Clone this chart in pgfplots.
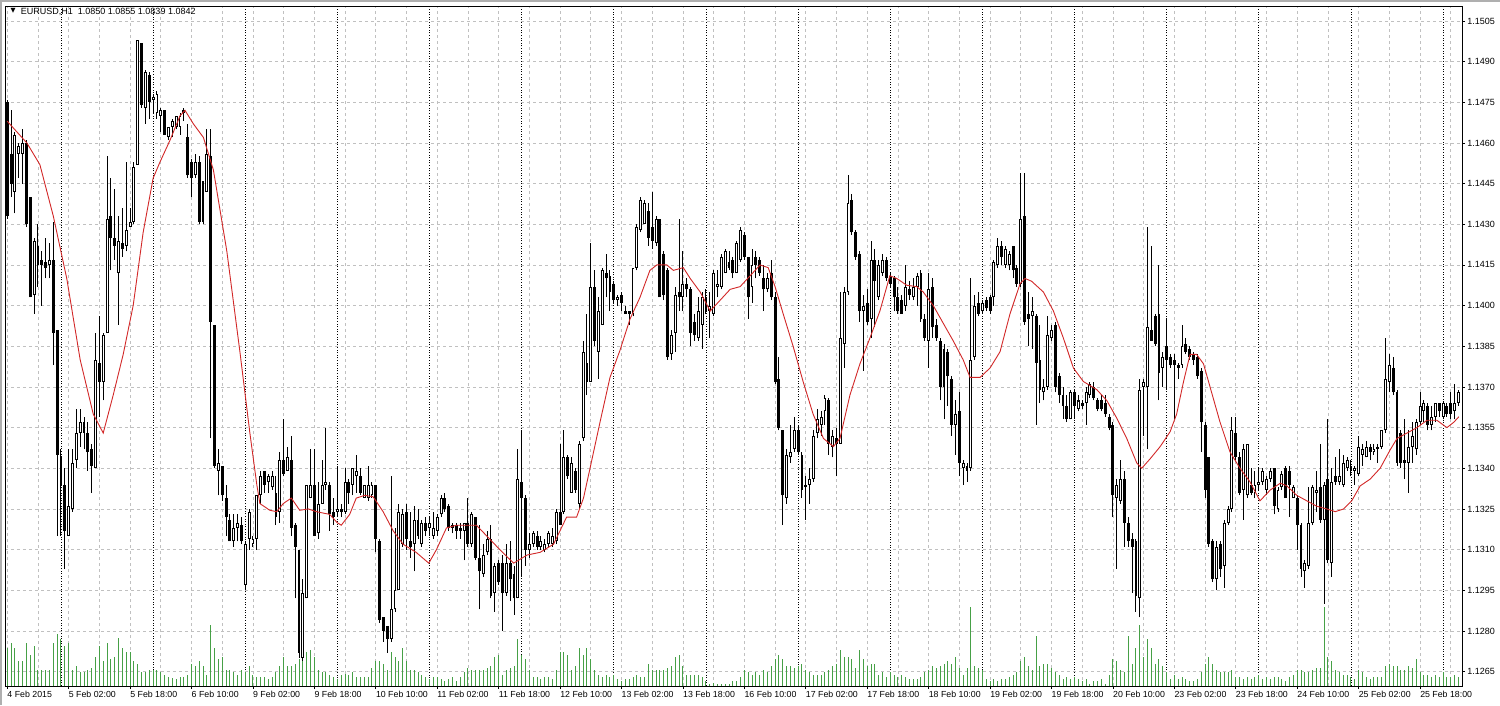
\documentclass[border=0pt]{standalone}
\usepackage{pgfplots}
\pgfplotsset{compat=1.18}
\usepackage{pgfplotstable}
\usepackage{fontspec}
\setmainfont{Liberation Sans}
\newfontfamily\symfont{DejaVu Sans}

\definecolor{gridc}{RGB}{192,192,192}
\definecolor{volc}{RGB}{70,160,70}
\definecolor{mac}{RGB}{210,40,40}
\definecolor{framec}{RGB}{175,175,175}

% hourly bars: index, open, high, low, close, tick volume
\pgfplotstableread{
i o h l c v
0 1.1475 1.1476 1.1432 1.1433 38
1 1.1456 1.1472 1.1440 1.1445 43
2 1.1442 1.1464 1.1434 1.1463 38
3 1.1456 1.1460 1.1447 1.1459 25
4 1.1456 1.1465 1.1445 1.1460 25
5 1.1460 1.1461 1.1429 1.1430 43
6 1.1440 1.1440 1.1403 1.1403 31
7 1.1404 1.1425 1.1397 1.1424 40
8 1.1422 1.1430 1.1407 1.1415 16
9 1.1417 1.1420 1.1400 1.1415 16
10 1.1416 1.1425 1.1410 1.1414 16
11 1.1415 1.1423 1.1410 1.1417 16
12 1.1417 1.1431 1.1378 1.1390 43
13 1.1391 1.1391 1.1315 1.1345 52
14 1.1344 1.1347 1.1315 1.1334 47
15 1.1334 1.1340 1.1303 1.1317 40
16 1.1315 1.1347 1.1315 1.1326 43
17 1.1325 1.1347 1.1324 1.1342 16
18 1.1343 1.1362 1.1340 1.1353 20
19 1.1353 1.1362 1.1348 1.1357 14
20 1.1357 1.1359 1.1347 1.1353 14
21 1.1353 1.1357 1.1339 1.1346 16
22 1.1347 1.1349 1.1331 1.1341 18
23 1.1340 1.1390 1.1340 1.1380 29
24 1.1379 1.1396 1.1359 1.1372 40
25 1.1372 1.1390 1.1365 1.1389 25
26 1.1390 1.1455 1.1390 1.1432 43
27 1.1433 1.1447 1.1413 1.1425 27
28 1.1425 1.1443 1.1417 1.1422 29
29 1.1412 1.1433 1.1393 1.1424 48
30 1.1423 1.1436 1.1418 1.1421 38
31 1.1422 1.1453 1.1420 1.1428 34
32 1.1429 1.1436 1.1429 1.1431 34
33 1.1431 1.1453 1.1430 1.1451 25
34 1.1452 1.1498 1.1452 1.1498 22
35 1.1497 1.1497 1.1473 1.1474 14
36 1.1473 1.1487 1.1467 1.1486 14
37 1.1485 1.1486 1.1469 1.1475 16
38 1.1476 1.1478 1.1471 1.1477 16
39 1.1471 1.1479 1.1469 1.1478 16
40 1.1470 1.1473 1.1464 1.1472 14
41 1.1472 1.1472 1.1463 1.1463 11
42 1.1462 1.1466 1.1461 1.1466 9
43 1.1466 1.1469 1.1462 1.1468 8
44 1.1466 1.1470 1.1465 1.1470 7
45 1.1466 1.1471 1.1463 1.1470 9
46 1.1472 1.1473 1.1468 1.1471 9
47 1.1462 1.1467 1.1447 1.1448 11
48 1.1453 1.1454 1.1440 1.1447 22
49 1.1448 1.1456 1.1447 1.1453 20
50 1.1453 1.1455 1.1430 1.1431 25
51 1.1446 1.1446 1.1430 1.1431 20
52 1.1442 1.1465 1.1442 1.1456 11
53 1.1455 1.1465 1.1351 1.1394 61
54 1.1393 1.1393 1.1340 1.1341 38
55 1.1339 1.1347 1.1330 1.1342 27
56 1.1341 1.1341 1.1328 1.1330 29
57 1.1329 1.1334 1.1315 1.1322 16
58 1.1321 1.1323 1.1313 1.1313 16
59 1.1313 1.1323 1.1311 1.1318 14
60 1.1318 1.1323 1.1313 1.1320 11
61 1.1319 1.1322 1.1312 1.1313 16
62 1.1297 1.1313 1.1295 1.1312 14
63 1.1314 1.1325 1.1310 1.1324 20
64 1.1312 1.1315 1.1311 1.1314 11
65 1.1314 1.1330 1.1310 1.1330 9
66 1.1330 1.1339 1.1327 1.1337 9
67 1.1339 1.1339 1.1331 1.1334 9
68 1.1335 1.1338 1.1331 1.1337 7
69 1.1333 1.1339 1.1332 1.1337 9
70 1.1331 1.1337 1.1319 1.1322 14
71 1.1324 1.1346 1.1320 1.1343 20
72 1.1343 1.1358 1.1337 1.1338 29
73 1.1339 1.1348 1.1339 1.1344 20
74 1.1343 1.1352 1.1315 1.1318 20
75 1.1319 1.1320 1.1292 1.1311 22
76 1.1310 1.1310 1.1270 1.1272 27
77 1.1270 1.1299 1.1269 1.1294 34
78 1.1292 1.1334 1.1292 1.1334 34
79 1.1329 1.1347 1.1329 1.1334 36
80 1.1334 1.1347 1.1315 1.1315 29
81 1.1316 1.1335 1.1314 1.1327 16
82 1.1327 1.1343 1.1327 1.1334 14
83 1.1334 1.1355 1.1332 1.1335 14
84 1.1334 1.1335 1.1317 1.1323 11
85 1.1324 1.1329 1.1319 1.1322 9
86 1.1324 1.1341 1.1322 1.1325 7
87 1.1325 1.1327 1.1322 1.1324 11
88 1.1324 1.1340 1.1323 1.1335 12
89 1.1335 1.1336 1.1327 1.1331 11
90 1.1334 1.1340 1.1330 1.1340 14
91 1.1337 1.1345 1.1331 1.1339 9
92 1.1337 1.1340 1.1330 1.1331 9
93 1.1329 1.1334 1.1329 1.1334 9
94 1.1329 1.1341 1.1328 1.1334 9
95 1.1330 1.1335 1.1329 1.1334 18
96 1.1334 1.1334 1.1309 1.1314 25
97 1.1313 1.1314 1.1283 1.1284 25
98 1.1285 1.1285 1.1276 1.1280 22
99 1.1282 1.1282 1.1272 1.1277 16
100 1.1277 1.1337 1.1276 1.1288 34
101 1.1288 1.1318 1.1287 1.1295 29
102 1.1295 1.1327 1.1295 1.1324 25
103 1.1312 1.1325 1.1311 1.1323 38
104 1.1324 1.1327 1.1310 1.1314 25
105 1.1313 1.1324 1.1307 1.1311 16
106 1.1312 1.1326 1.1302 1.1321 16
107 1.1321 1.1325 1.1314 1.1315 14
108 1.1312 1.1321 1.1311 1.1320 11
109 1.1320 1.1322 1.1315 1.1317 9
110 1.1318 1.1322 1.1315 1.1320 7
111 1.1315 1.1324 1.1314 1.1318 9
112 1.1317 1.1323 1.1315 1.1322 9
113 1.1323 1.1330 1.1322 1.1329 7
114 1.1329 1.1331 1.1324 1.1325 5
115 1.1326 1.1327 1.1317 1.1318 7
116 1.1319 1.1320 1.1316 1.1318 9
117 1.1319 1.1320 1.1314 1.1317 5
118 1.1318 1.1320 1.1314 1.1317 9
119 1.1317 1.1320 1.1306 1.1320 14
120 1.1320 1.1329 1.1311 1.1312 18
121 1.1312 1.1324 1.1311 1.1323 16
122 1.1322 1.1322 1.1306 1.1307 16
123 1.1307 1.1319 1.1288 1.1302 16
124 1.1301 1.1312 1.1300 1.1308 16
125 1.1309 1.1317 1.1308 1.1314 18
126 1.1314 1.1319 1.1292 1.1293 20
127 1.1294 1.1305 1.1287 1.1304 29
128 1.1305 1.1306 1.1297 1.1298 31
129 1.1305 1.1308 1.1280 1.1294 11
130 1.1294 1.1312 1.1293 1.1305 16
131 1.1305 1.1313 1.1291 1.1299 18
132 1.1301 1.1304 1.1286 1.1292 20
133 1.1292 1.1347 1.1292 1.1336 47
134 1.1335 1.1354 1.1300 1.1329 31
135 1.1329 1.1330 1.1304 1.1310 27
136 1.1310 1.1316 1.1307 1.1312 16
137 1.1312 1.1317 1.1311 1.1316 9
138 1.1315 1.1317 1.1310 1.1311 9
139 1.1311 1.1315 1.1310 1.1313 7
140 1.1310 1.1314 1.1309 1.1312 9
141 1.1312 1.1317 1.1311 1.1316 9
142 1.1312 1.1318 1.1311 1.1315 7
143 1.1313 1.1325 1.1312 1.1324 16
144 1.1324 1.1349 1.1319 1.1319 34
145 1.1324 1.1354 1.1323 1.1344 34
146 1.1344 1.1345 1.1336 1.1337 31
147 1.1331 1.1344 1.1331 1.1342 16
148 1.1339 1.1340 1.1331 1.1332 20
149 1.1327 1.1350 1.1325 1.1349 38
150 1.1351 1.1387 1.1350 1.1383 31
151 1.1379 1.1397 1.1367 1.1372 38
152 1.1372 1.1423 1.1372 1.1407 27
153 1.1407 1.1413 1.1385 1.1387 16
154 1.1383 1.1403 1.1373 1.1398 11
155 1.1393 1.1414 1.1393 1.1413 9
156 1.1412 1.1419 1.1403 1.1410 11
157 1.1411 1.1413 1.1398 1.1405 9
158 1.1408 1.1409 1.1401 1.1402 11
159 1.1402 1.1404 1.1400 1.1403 7
160 1.1404 1.1405 1.1398 1.1401 5
161 1.1398 1.1400 1.1397 1.1397 7
162 1.1398 1.1398 1.1393 1.1397 7
163 1.1397 1.1414 1.1396 1.1414 9
164 1.1414 1.1430 1.1413 1.1429 11
165 1.1428 1.1440 1.1427 1.1439 9
166 1.1430 1.1439 1.1430 1.1438 9
167 1.1435 1.1438 1.1422 1.1425 22
168 1.1429 1.1442 1.1421 1.1424 16
169 1.1423 1.1433 1.1422 1.1432 16
170 1.1432 1.1432 1.1403 1.1403 16
171 1.1419 1.1420 1.1402 1.1404 16
172 1.1413 1.1414 1.1380 1.1381 18
173 1.1382 1.1391 1.1380 1.1389 20
174 1.1390 1.1407 1.1383 1.1404 29
175 1.1405 1.1432 1.1398 1.1403 31
176 1.1403 1.1420 1.1398 1.1408 20
177 1.1408 1.1410 1.1403 1.1406 11
178 1.1406 1.1407 1.1385 1.1390 11
179 1.1394 1.1397 1.1387 1.1389 11
180 1.1388 1.1403 1.1387 1.1398 11
181 1.1393 1.1405 1.1384 1.1403 9
182 1.1403 1.1406 1.1397 1.1398 5
183 1.1398 1.1405 1.1388 1.1400 2
184 1.1397 1.1413 1.1396 1.1412 3
185 1.1407 1.1413 1.1403 1.1408 2
186 1.1407 1.1419 1.1406 1.1418 2
187 1.1412 1.1421 1.1412 1.1420 2
188 1.1416 1.1420 1.1413 1.1414 2
189 1.1417 1.1418 1.1410 1.1412 5
190 1.1412 1.1424 1.1412 1.1423 5
191 1.1417 1.1429 1.1416 1.1428 9
192 1.1426 1.1427 1.1417 1.1418 16
193 1.1418 1.1418 1.1395 1.1403 14
194 1.1407 1.1421 1.1401 1.1415 11
195 1.1418 1.1420 1.1410 1.1415 14
196 1.1417 1.1418 1.1411 1.1412 11
197 1.1410 1.1415 1.1398 1.1406 16
198 1.1406 1.1412 1.1405 1.1410 14
199 1.1412 1.1417 1.1402 1.1403 20
200 1.1403 1.1405 1.1371 1.1372 27
201 1.1373 1.1381 1.1354 1.1355 31
202 1.1354 1.1354 1.1319 1.1330 27
203 1.1329 1.1347 1.1327 1.1345 20
204 1.1344 1.1356 1.1342 1.1346 20
205 1.1347 1.1359 1.1346 1.1354 18
206 1.1354 1.1356 1.1345 1.1346 20
207 1.1345 1.1346 1.1329 1.1332 22
208 1.1334 1.1337 1.1321 1.1333 16
209 1.1334 1.1340 1.1327 1.1336 14
210 1.1336 1.1354 1.1335 1.1352 11
211 1.1353 1.1362 1.1351 1.1358 11
212 1.1356 1.1361 1.1352 1.1359 11
213 1.1361 1.1367 1.1356 1.1366 14
214 1.1365 1.1366 1.1345 1.1349 16
215 1.1348 1.1354 1.1344 1.1352 20
216 1.1351 1.1355 1.1337 1.1349 22
217 1.1349 1.1405 1.1349 1.1388 36
218 1.1386 1.1407 1.1377 1.1405 29
219 1.1405 1.1448 1.1404 1.1438 29
220 1.1439 1.1441 1.1426 1.1427 27
221 1.1427 1.1428 1.1417 1.1418 18
222 1.1419 1.1420 1.1394 1.1398 36
223 1.1398 1.1404 1.1376 1.1400 27
224 1.1401 1.1406 1.1393 1.1394 20
225 1.1395 1.1424 1.1388 1.1417 22
226 1.1417 1.1421 1.1392 1.1409 22
227 1.1403 1.1417 1.1402 1.1415 11
228 1.1412 1.1419 1.1411 1.1417 14
229 1.1417 1.1418 1.1409 1.1410 9
230 1.1411 1.1412 1.1407 1.1408 14
231 1.1410 1.1411 1.1398 1.1403 11
232 1.1403 1.1407 1.1397 1.1398 9
233 1.1402 1.1404 1.1397 1.1397 11
234 1.1400 1.1415 1.1398 1.1407 9
235 1.1406 1.1409 1.1402 1.1404 7
236 1.1403 1.1410 1.1402 1.1407 7
237 1.1407 1.1412 1.1400 1.1411 7
238 1.1412 1.1413 1.1394 1.1395 9
239 1.1395 1.1397 1.1387 1.1388 14
240 1.1387 1.1412 1.1377 1.1406 16
241 1.1407 1.1410 1.1388 1.1392 20
242 1.1393 1.1395 1.1387 1.1388 18
243 1.1387 1.1388 1.1365 1.1370 20
244 1.1384 1.1386 1.1358 1.1370 22
245 1.1383 1.1384 1.1363 1.1374 25
246 1.1373 1.1374 1.1352 1.1356 22
247 1.1356 1.1365 1.1345 1.1360 29
248 1.1361 1.1368 1.1337 1.1342 18
249 1.1340 1.1343 1.1334 1.1342 11
250 1.1341 1.1342 1.1335 1.1339 18
251 1.1340 1.1410 1.1339 1.1380 79
252 1.1381 1.1404 1.1380 1.1400 20
253 1.1401 1.1405 1.1396 1.1397 18
254 1.1398 1.1402 1.1397 1.1401 16
255 1.1402 1.1403 1.1398 1.1399 7
256 1.1403 1.1404 1.1397 1.1398 5
257 1.1403 1.1417 1.1400 1.1416 7
258 1.1415 1.1425 1.1414 1.1422 5
259 1.1422 1.1424 1.1415 1.1418 7
260 1.1415 1.1422 1.1414 1.1421 7
261 1.1415 1.1420 1.1413 1.1419 9
262 1.1422 1.1422 1.1410 1.1413 11
263 1.1414 1.1415 1.1407 1.1408 14
264 1.1408 1.1449 1.1407 1.1432 25
265 1.1433 1.1449 1.1393 1.1394 29
266 1.1397 1.1405 1.1385 1.1395 20
267 1.1396 1.1403 1.1384 1.1398 16
268 1.1396 1.1397 1.1356 1.1379 50
269 1.1380 1.1393 1.1364 1.1369 20
270 1.1368 1.1373 1.1365 1.1370 22
271 1.1370 1.1396 1.1369 1.1389 22
272 1.1388 1.1393 1.1387 1.1391 18
273 1.1393 1.1394 1.1368 1.1370 14
274 1.1374 1.1375 1.1364 1.1367 11
275 1.1367 1.1370 1.1358 1.1363 7
276 1.1363 1.1367 1.1357 1.1358 9
277 1.1358 1.1369 1.1358 1.1368 7
278 1.1368 1.1369 1.1358 1.1363 9
279 1.1362 1.1367 1.1361 1.1365 7
280 1.1364 1.1365 1.1362 1.1363 5
281 1.1364 1.1370 1.1356 1.1368 7
282 1.1367 1.1372 1.1366 1.1371 2
283 1.1370 1.1372 1.1365 1.1366 5
284 1.1365 1.1366 1.1361 1.1362 5
285 1.1365 1.1367 1.1361 1.1362 7
286 1.1364 1.1367 1.1359 1.1360 2
287 1.1359 1.1360 1.1354 1.1355 11
288 1.1356 1.1357 1.1322 1.1330 27
289 1.1329 1.1336 1.1303 1.1334 25
290 1.1328 1.1343 1.1327 1.1336 16
291 1.1336 1.1339 1.1311 1.1320 14
292 1.1320 1.1322 1.1311 1.1313 50
293 1.1314 1.1316 1.1294 1.1311 22
294 1.1313 1.1314 1.1287 1.1293 38
295 1.1292 1.1373 1.1285 1.1369 61
296 1.1370 1.1373 1.1352 1.1372 29
297 1.1370 1.1429 1.1347 1.1392 47
298 1.1391 1.1422 1.1387 1.1387 38
299 1.1396 1.1397 1.1385 1.1386 22
300 1.1397 1.1415 1.1365 1.1375 27
301 1.1377 1.1383 1.1370 1.1381 20
302 1.1385 1.1395 1.1369 1.1380 14
303 1.1381 1.1382 1.1377 1.1378 7
304 1.1380 1.1382 1.1358 1.1378 11
305 1.1378 1.1379 1.1373 1.1377 7
306 1.1378 1.1393 1.1377 1.1385 9
307 1.1386 1.1388 1.1382 1.1383 7
308 1.1384 1.1385 1.1380 1.1381 5
309 1.1382 1.1383 1.1378 1.1380 5
310 1.1381 1.1382 1.1373 1.1374 7
311 1.1376 1.1377 1.1346 1.1357 14
312 1.1356 1.1357 1.1329 1.1332 22
313 1.1344 1.1344 1.1311 1.1312 29
314 1.1313 1.1314 1.1298 1.1299 22
315 1.1299 1.1313 1.1295 1.1311 16
316 1.1312 1.1313 1.1300 1.1303 14
317 1.1304 1.1321 1.1296 1.1320 14
318 1.1320 1.1326 1.1319 1.1325 14
319 1.1325 1.1359 1.1324 1.1354 16
320 1.1353 1.1359 1.1343 1.1344 9
321 1.1344 1.1346 1.1330 1.1331 9
322 1.1332 1.1349 1.1321 1.1347 7
323 1.1330 1.1349 1.1329 1.1349 9
324 1.1334 1.1340 1.1330 1.1331 7
325 1.1331 1.1339 1.1329 1.1334 9
326 1.1334 1.1340 1.1332 1.1335 11
327 1.1335 1.1340 1.1334 1.1339 7
328 1.1332 1.1337 1.1330 1.1336 9
329 1.1336 1.1340 1.1335 1.1339 7
330 1.1340 1.1340 1.1323 1.1326 9
331 1.1325 1.1333 1.1324 1.1332 9
332 1.1333 1.1339 1.1332 1.1338 7
333 1.1340 1.1341 1.1329 1.1329 5
334 1.1339 1.1341 1.1322 1.1334 9
335 1.1329 1.1334 1.1329 1.1333 11
336 1.1329 1.1330 1.1310 1.1319 16
337 1.1319 1.1320 1.1300 1.1303 16
338 1.1302 1.1306 1.1296 1.1305 14
339 1.1304 1.1333 1.1303 1.1320 14
340 1.1320 1.1334 1.1319 1.1333 16
341 1.1331 1.1339 1.1324 1.1332 18
342 1.1333 1.1349 1.1320 1.1321 18
343 1.1321 1.1335 1.1290 1.1334 79
344 1.1336 1.1358 1.1305 1.1306 29
345 1.1305 1.1340 1.1300 1.1335 25
346 1.1337 1.1344 1.1334 1.1335 16
347 1.1335 1.1347 1.1334 1.1337 14
348 1.1334 1.1345 1.1333 1.1342 11
349 1.1340 1.1344 1.1339 1.1343 11
350 1.1341 1.1343 1.1337 1.1339 9
351 1.1339 1.1341 1.1334 1.1340 7
352 1.1338 1.1352 1.1337 1.1348 16
353 1.1345 1.1349 1.1341 1.1347 14
354 1.1344 1.1350 1.1344 1.1348 9
355 1.1348 1.1349 1.1343 1.1346 7
356 1.1346 1.1349 1.1345 1.1347 9
357 1.1348 1.1349 1.1342 1.1347 9
358 1.1348 1.1354 1.1347 1.1354 9
359 1.1354 1.1388 1.1353 1.1373 20
360 1.1372 1.1382 1.1368 1.1378 22
361 1.1377 1.1381 1.1367 1.1368 20
362 1.1368 1.1369 1.1341 1.1342 20
363 1.1353 1.1354 1.1340 1.1342 16
364 1.1343 1.1358 1.1336 1.1342 16
365 1.1342 1.1354 1.1331 1.1348 20
366 1.1348 1.1357 1.1342 1.1352 18
367 1.1347 1.1358 1.1345 1.1357 27
368 1.1357 1.1368 1.1356 1.1363 14
369 1.1361 1.1365 1.1357 1.1364 11
370 1.1363 1.1364 1.1354 1.1356 11
371 1.1356 1.1363 1.1354 1.1359 9
372 1.1359 1.1364 1.1357 1.1364 11
373 1.1364 1.1364 1.1359 1.1361 9
374 1.1359 1.1365 1.1358 1.1364 14
375 1.1363 1.1364 1.1359 1.1360 9
376 1.1364 1.1368 1.1358 1.1360 9
377 1.1361 1.1371 1.1358 1.1364 11
378 1.1364 1.1369 1.1363 1.1368 9
}\bars

% moving average
\pgfplotstableread{
i ma
0 1.1468
5.1 1.1460
8.5 1.1452
12 1.1433
15.5 1.1410
19 1.1380
22.4 1.1360
25 1.1353
27.6 1.1367
30.2 1.1382
32.8 1.1400
35.4 1.1427
38 1.1447
39.8 1.1453
42.4 1.1461
45 1.1470
46.3 1.1472
48.5 1.1467
51.1 1.1462
53.7 1.1450
57.2 1.1420
60.6 1.1383
63.2 1.1353
65 1.1334
65.8 1.1327
68.4 1.13245
70.2 1.1324
71.9 1.1327
74 1.1329
76.2 1.13245
78.4 1.1325
80.5 1.1324
84 1.1323
85.9 1.1320
87 1.1319
89.2 1.1323
90.9 1.1329
93.1 1.1330
95.3 1.13295
97.9 1.1324
100.5 1.1317
103.1 1.1312
106.5 1.1309
109.8 1.1305
111.8 1.1310
114.4 1.1318
117 1.1319
119.6 1.1319
122.2 1.1319
125.6 1.1314
128.3 1.1310
131.9 1.1305
135.4 1.1308
138.8 1.1309
142.3 1.1312
145.7 1.1322
148.3 1.1322
150.1 1.1329
151.8 1.1340
154.4 1.1357
157 1.13735
159.6 1.13835
162.2 1.1395
164.8 1.1403
167.4 1.1413
169.2 1.1415
171.8 1.1415
173.5 1.1413
176.1 1.1414
177.9 1.1410
180.5 1.1405
183.1 1.1398
185.7 1.1402
188.3 1.1406
190.9 1.1407
193.5 1.1411
196.1 1.1415
198.2 1.1414
200 1.1407
202.1 1.1397
204.7 1.1385
207.3 1.1372
209.9 1.1360
212.6 1.1351
215.2 1.1348
216.9 1.1351
219.5 1.1367
222.1 1.13785
224.7 1.1388
227.3 1.1398
229.9 1.1411
231.7 1.1410
234.3 1.14075
236.9 1.1407
238.6 1.1405
241.2 1.1400
243.8 1.13935
246.4 1.1387
249 1.1380
250.8 1.13735
253.4 1.13735
256 1.1377
258.6 1.1383
261.2 1.1397
263.8 1.1408
265.1 1.1410
266.8 1.1409
269.9 1.1405
272.5 1.1398
275.1 1.1388
277.7 1.1377
280.3 1.1372
283.8 1.1369
286.4 1.1365
289 1.13585
291.6 1.1351
294.2 1.1342
295.5 1.1340
297.7 1.13435
300.3 1.1348
302.9 1.13535
304.6 1.1360
306.4 1.1372
308.1 1.1382
309.8 1.1382
311.6 1.13785
313.3 1.1370
315.9 1.1357
318.5 1.1346
321.1 1.1340
323.7 1.1335
326.3 1.1328
329 1.1332
331.6 1.13345
333.3 1.13335
335.9 1.1330
338.5 1.1328
341.1 1.1326
343.7 1.1325
345.9 1.1324
348.1 1.1325
350.2 1.1328
352.4 1.13335
355 1.1336
357.6 1.1340
360.3 1.1347
362 1.1351
364.6 1.1353
367.2 1.1355
369.8 1.13577
372.4 1.13577
375 1.1355
376.8 1.1357
378.1 1.1359
}\ma

\pgfplotsset{
  chartbox/.style={
    scale only axis, width=1457pt, height=680pt,
    at={(5pt,19pt)}, anchor=south west,
    xmin=-0.586, xmax=378.94,
  },
  pricey/.style={ymin=1.12597, ymax=1.15105},
  candle/.style 2 args={draw=none, mark=none,
    error bars/.cd, y dir=plus, y explicit, error mark=none,
    error bar style={draw=#1, line width=#2}},
}

\begin{document}
\begin{tikzpicture}
\path[use as bounding box] (0pt,0pt) rectangle (1500pt,705pt);
\draw[framec, line width=2pt] (1pt,0pt) -- (1pt,704pt) -- (1500pt,704pt);

% grid, separators, ticks and labels
\begin{axis}[chartbox, pricey,
  axis line style={black, line width=0.8pt},
  xtick={0,16,...,368},
  xticklabels={4 Feb 2015,5 Feb 02:00,5 Feb 18:00,6 Feb 10:00,9 Feb 02:00,9 Feb 18:00,10 Feb 10:00,11 Feb 02:00,11 Feb 18:00,12 Feb 10:00,13 Feb 02:00,13 Feb 18:00,16 Feb 10:00,17 Feb 02:00,17 Feb 18:00,18 Feb 10:00,19 Feb 02:00,19 Feb 18:00,20 Feb 10:00,23 Feb 02:00,23 Feb 18:00,24 Feb 10:00,25 Feb 02:00,25 Feb 18:00},
  minor xtick={8,24,...,376},
  ytick={1.1265,1.1280,1.1295,1.1310,1.1325,1.1340,1.1355,1.1370,1.1385,1.1400,1.1415,1.1430,1.1445,1.1460,1.1475,1.1490,1.1505},
  yticklabels={1.1265,1.1280,1.1295,1.1310,1.1325,1.1340,1.1355,1.1370,1.1385,1.1400,1.1415,1.1430,1.1445,1.1460,1.1475,1.1490,1.1505},
  scaled y ticks=false,
  xtick pos=left, ytick pos=right, yticklabel pos=right,
  tick align=outside,
  major tick length=3pt, minor tick length=0pt,
  tick style={black, line width=0.8pt},
  grid=both,
  major grid style={gridc, dash pattern=on 3pt off 3pt, line width=0.8pt},
  minor grid style={gridc, dash pattern=on 3pt off 3pt, line width=0.8pt},
  extra x ticks={14,38,...,374},
  extra x tick labels={},
  extra x tick style={grid=major, major tick length=0pt,
    major grid style={black, dash pattern=on 1pt off 1.6pt, line width=0.8pt}},
  xticklabel style={anchor=north west, inner sep=0pt, yshift=-1.5pt,
    font=\fontsize{8.8}{10}\selectfont},
  yticklabel style={anchor=west, inner sep=0pt, xshift=2pt,
    font=\fontsize{9}{10}\selectfont},
]
\node[anchor=center, inner sep=0pt] at (axis description cs:0.0055,0.9931)
  {\symfont\fontsize{6.5}{7}\selectfont ▼};
\node[anchor=base west, inner sep=0pt, font=\fontsize{9}{10}\selectfont]
  at (axis description cs:0.0108,0.988)
  {EURUSD,H1\hspace{5pt}1.0850 1.0855 1.0839 1.0842};
\end{axis}

% tick volume
\begin{axis}[chartbox, ymin=0, ymax=680, hide axis]
\addplot[ycomb, volc, line width=1pt, mark=none] table[x=i, y=v]{\bars};
\end{axis}

% candles and moving average
\begin{axis}[chartbox, pricey, hide axis]
\addplot[candle={black}{1pt}]
  table[x=i, y=l, y error plus expr={\thisrow{h}-\thisrow{l}}]{\bars};
\addplot[candle={black}{2.9pt}]
  table[x=i, y expr={min(\thisrow{o},\thisrow{c})},
        y error plus expr={max(abs(\thisrow{c}-\thisrow{o}),0.00004)}]{\bars};
\addplot[candle={white}{1pt}]
  table[x=i, y expr={\thisrow{o}+0.000037},
        y error plus expr={max(\thisrow{c}-\thisrow{o}-0.000074,0)}]{\bars};
\addplot[mac, line width=0.9pt, mark=none] table[x=i, y=ma]{\ma};
\end{axis}
\end{tikzpicture}
\end{document}
